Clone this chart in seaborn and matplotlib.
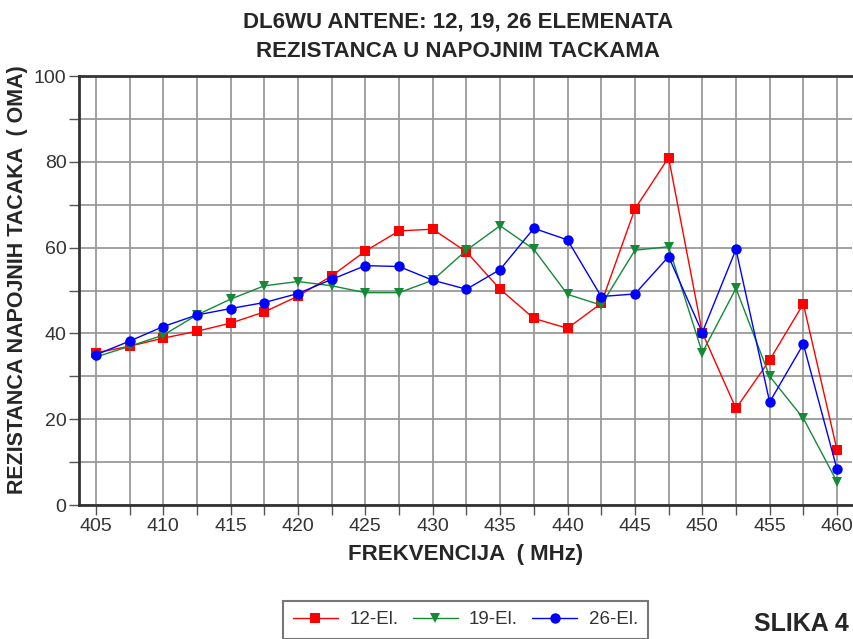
import numpy as np
import pandas as pd
import matplotlib
matplotlib.use("Agg")
import matplotlib.pyplot as plt
from matplotlib.ticker import MultipleLocator
import seaborn as sns

freq = [405, 407.5, 410, 412.5, 415, 417.5, 420, 422.5, 425, 427.5, 430, 432.5,
        435, 437.5, 440, 442.5, 445, 447.5, 450, 452.5, 455, 457.5, 460]
el12 = [35.5, 37.0, 38.9, 40.5, 42.4, 45.0, 48.7, 53.4, 59.2, 63.9, 64.3, 59.0,
        50.3, 43.5, 41.2, 47.0, 69.0, 81.0, 40.2, 22.5, 33.8, 46.9, 12.8]
el19 = [34.5, 37.0, 39.6, 44.3, 48.0, 51.1, 52.1, 51.1, 49.5, 49.5, 52.4, 59.4,
        65.1, 59.6, 49.1, 46.6, 59.4, 60.2, 35.5, 50.5, 30.0, 20.2, 5.4]
el26 = [35.0, 38.2, 41.6, 44.3, 45.8, 47.2, 49.3, 52.6, 55.8, 55.6, 52.4, 50.3,
        54.9, 64.5, 61.8, 48.6, 49.2, 57.9, 40.2, 59.6, 24.0, 37.5, 8.3]
series_names = ["12-El.", "19-El.", "26-El."]
series_colors = ["#ff0000", "#138a36", "#0000ff"]
series_markers = ["s", "v", "o"]
title_text = "DL6WU ANTENE: 12, 19, 26 ELEMENATA\nREZISTANCA U NAPOJNIM TACKAMA"
xlabel_text = "FREKVENCIJA  ( MHz)"
ylabel_text = "REZISTANCA NAPOJNIH TACAKA  ( OMA)"

sns.set_style("white")
plt.rcParams["font.family"] = ["Liberation Sans", "DejaVu Sans"]

df = pd.DataFrame({"freq": freq * 3,
                   "R": el12 + el19 + el26,
                   "series": sum([[n] * len(freq) for n in series_names], [])})

fig = plt.figure(figsize=(8.54, 6.39), dpi=100)
ax = fig.add_axes([0.0925, 0.2097, 0.905, 0.6713])

for name, col, mk in zip(series_names, series_colors, series_markers):
    sub = df[df["series"] == name]
    sns.lineplot(data=sub, x="freq", y="R", ax=ax, color=col, marker=mk,
                 markersize=7.5, markeredgewidth=0, linewidth=1.0, label=name,
                 zorder=3)

ax.set_xlim(403.75, 461.1)
ax.set_ylim(0, 100)
ax.xaxis.set_major_locator(MultipleLocator(5))
ax.xaxis.set_minor_locator(MultipleLocator(2.5))
ax.yaxis.set_major_locator(MultipleLocator(20))
ax.yaxis.set_minor_locator(MultipleLocator(10))
ax.grid(True, which="both", color="#9a9a9a", linewidth=1.3)
ax.set_axisbelow(True)

for s in ["left", "bottom", "top"]:
    ax.spines[s].set_visible(True)
    ax.spines[s].set_color("#333333")
    ax.spines[s].set_linewidth(2.0)
ax.spines["right"].set_visible(False)

ax.tick_params(axis="both", which="both", direction="out", length=7, width=1,
               color="#555555", labelcolor="#333333", labelsize=14,
               bottom=True, left=True, pad=2)

ax.set_xlabel(xlabel_text, fontsize=16, fontweight="bold")
ax.xaxis.set_label_coords(0.5, -0.092)
ax.set_ylabel(ylabel_text, fontsize=15.5, fontweight="bold")
ax.yaxis.set_label_coords(-0.0655, 0.525)

fig.text(0.536, 0.943, title_text, ha="center", va="center", fontsize=16,
         fontweight="bold", linespacing=1.55)

ax.get_legend().remove()
handles, labels = ax.get_legend_handles_labels()
leg = fig.legend(handles, labels, loc="upper left", ncol=3,
                 bbox_to_anchor=(0.331, -0.03, 0.428, 0.0895), mode="expand",
                 borderaxespad=0.0,
                 fontsize=13.5, frameon=True, fancybox=False, borderpad=0.55,
                 handlelength=2.4, handletextpad=0.6, columnspacing=0.6)
leg.get_frame().set_edgecolor("#555555")
leg.get_frame().set_linewidth(1.5)
for t in leg.get_texts():
    t.set_color("#333333")

fig.text(0.938, 0.024, "SLIKA 4", ha="center", va="center", fontsize=18,
         fontweight="bold")

fig.savefig("out.png", dpi=100)
